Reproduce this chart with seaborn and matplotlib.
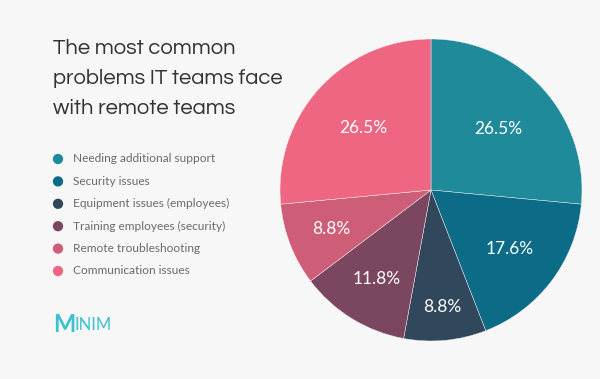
import matplotlib
matplotlib.use("Agg")
import matplotlib.pyplot as plt
import seaborn as sns
import numpy as np

categories = ["Needing additional support", "Security issues", "Equipment issues (employees)",
              "Training employees (security)", "Remote troubleshooting", "Communication issues"]
values = [26.5, 17.6, 8.8, 11.8, 8.8, 26.5]
colors = ["#1F8A9A", "#0C6B86", "#31475C", "#7B4660", "#CE5E78", "#EF6682"]
title_lines = ["The most common", "problems IT teams face", "with remote teams"]

sns.set_theme(style="white")
plt.rcParams['font.family'] = ['Lato', 'DejaVu Sans']
palette = sns.color_palette(colors)

W, H = 600, 379
fig = plt.figure(figsize=(W / 100, H / 100), dpi=100, facecolor="#F7F7F7")

# pie axes
cx, cy, r = 431, 190, 151
ax = fig.add_axes([(cx - r) / W, (H - cy - r) / H, 2 * r / W, 2 * r / H])
ax.set_facecolor("none")
wedges, texts, autotexts = ax.pie(values, colors=palette, startangle=90, counterclock=False,
                                  autopct="%.1f%%", pctdistance=0.66,
                                  wedgeprops=dict(linewidth=0.3, edgecolor="#F7F7F7"),
                                  textprops=dict(color="white", fontsize=12.5))
label_r = [0.60, 0.65, 0.78, 0.69, 0.71, 0.61]
for w, t, lr in zip(wedges, autotexts, label_r):
    ang = np.deg2rad((w.theta1 + w.theta2) / 2)
    t.set_position((lr * np.cos(ang), lr * np.sin(ang)))
ax.set_xlim(-1, 1)
ax.set_ylim(-1, 1)
ax.axis("off")

# overlay in pixel coords
ov = fig.add_axes([0, 0, 1, 1], zorder=-1)
ov.set_xlim(0, W)
ov.set_ylim(H, 0)
ov.axis("off")

for i, line in enumerate(title_lines):
    ov.text(53, 48 + i * 30, line, fontsize=15.8, color="#333333", va="center", ha="left",
            family=["Questrial", "Lato", "DejaVu Sans"])

for i, (c, lab) in enumerate(zip(colors, categories)):
    y = 159 + i * 22.4
    ov.scatter([58], [y], s=55, color=c, edgecolor="none")
    ov.text(73, y, lab, fontsize=8.6, color="#6A6A6A", va="center", ha="left")

ov.text(53, 324, "M", fontsize=17, color="#3CC1D1", va="center", ha="left", fontweight="bold")
ov.text(75, 325, "INIM", fontsize=12, color="#3CC1D1", va="center", ha="left")

fig.savefig("out.png", dpi=100, facecolor=fig.get_facecolor())
